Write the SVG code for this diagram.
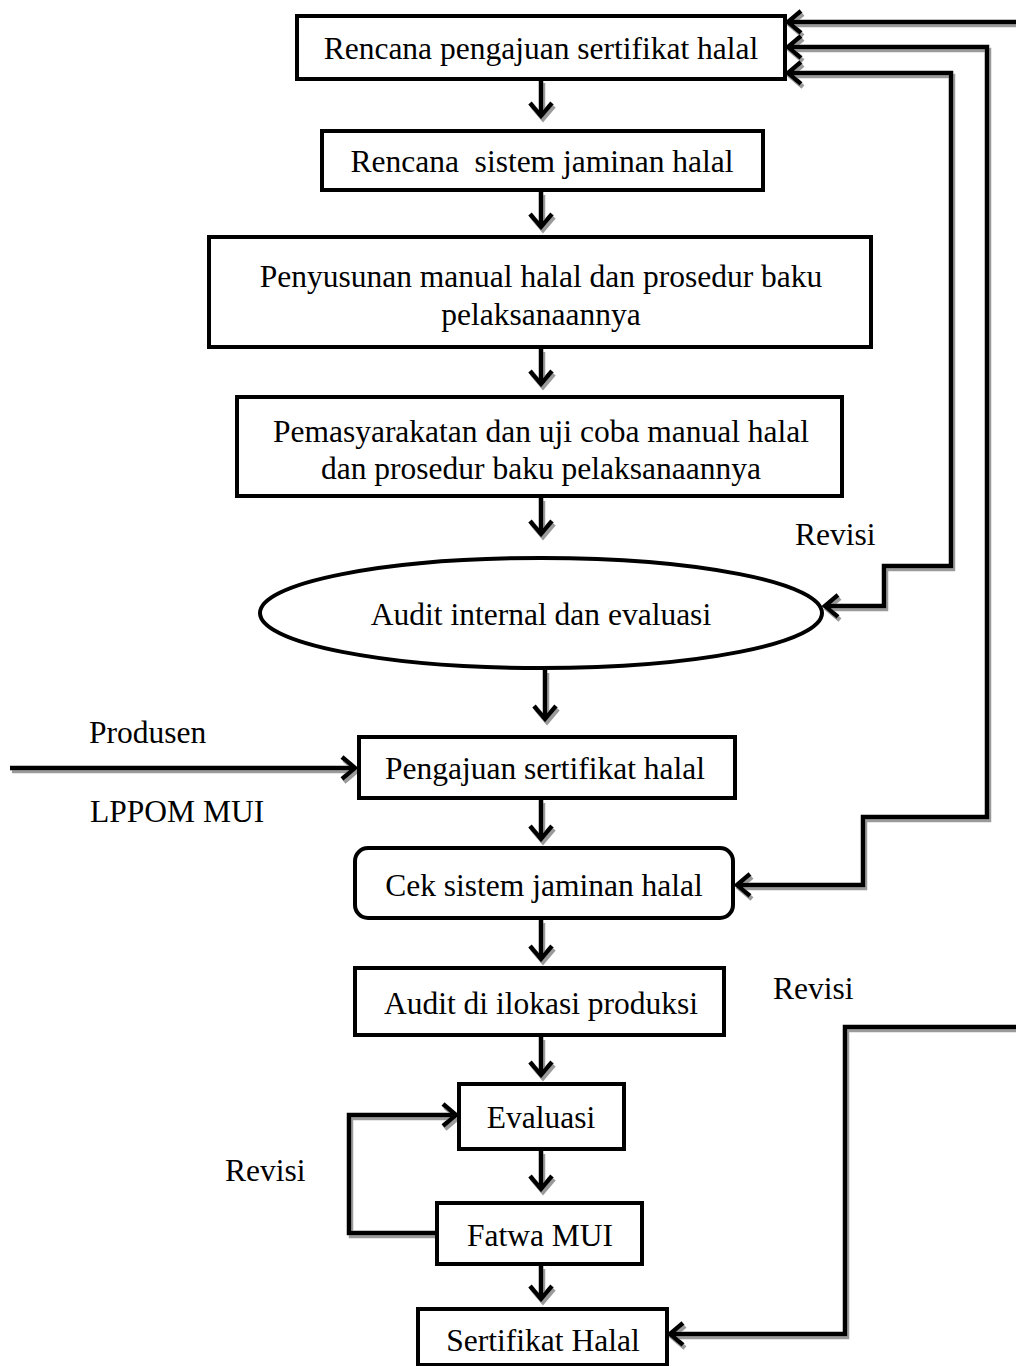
<svg xmlns="http://www.w3.org/2000/svg" width="1016" height="1366" viewBox="0 0 1016 1366">
<style>
.box{fill:#fff;stroke:#000;stroke-width:4}
.t{font-family:"Liberation Serif","Times New Roman",serif;font-size:31.5px;fill:#000;text-anchor:middle;white-space:pre}
.l{font-family:"Liberation Serif","Times New Roman",serif;font-size:31.5px;fill:#000}
.c{fill:none;stroke:#000;stroke-width:4.5}
</style>
<defs>
<marker id="ah" viewBox="-16 -14 20 28" refX="0" refY="0" markerWidth="20" markerHeight="28" markerUnits="userSpaceOnUse" orient="auto-start-reverse">
<path d="M-13,-11 L0,0 L-13,11" fill="none" stroke="#000" stroke-width="4.5"/>
</marker>
<filter id="sh" x="-5%" y="-5%" width="110%" height="110%">
<feOffset in="SourceAlpha" dx="2" dy="3" result="o"/>
<feFlood flood-color="#9a9a9a"/>
<feComposite in2="o" operator="in" result="s"/>
<feMerge><feMergeNode in="s"/><feMergeNode in="SourceGraphic"/></feMerge>
</filter>
</defs>
<g id="connectors" filter="url(#sh)">
<path class="c" d="M541,80 V116" marker-end="url(#ah)"/>
<path class="c" d="M541,192 V227" marker-end="url(#ah)"/>
<path class="c" d="M541,349 V384" marker-end="url(#ah)"/>
<path class="c" d="M541,498 V534" marker-end="url(#ah)"/>
<path class="c" d="M545,670 V719" marker-end="url(#ah)"/>
<path class="c" d="M541,800 V839" marker-end="url(#ah)"/>
<path class="c" d="M541,920 V959" marker-end="url(#ah)"/>
<path class="c" d="M541,1037 V1075" marker-end="url(#ah)"/>
<path class="c" d="M541,1151 V1189" marker-end="url(#ah)"/>
<path class="c" d="M541,1266 V1299" marker-end="url(#ah)"/>
<path class="c" d="M10,768 H355" marker-end="url(#ah)"/>
<path class="c" d="M1016,22 H788" marker-end="url(#ah)"/>
<path class="c" d="M788,47 H987 V817 H863 V885 H737" marker-start="url(#ah)" marker-end="url(#ah)"/>
<path class="c" d="M788,73 H951 V566 H884 V606 H825" marker-start="url(#ah)" marker-end="url(#ah)"/>
<path class="c" d="M1016,1027 H845 V1334 H670" marker-end="url(#ah)"/>
<path class="c" d="M437,1233 H349 V1115 H456" marker-end="url(#ah)"/>
</g>
<g id="n1"><rect class="box" x="297" y="16" width="488" height="63"/><text class="t" x="541" y="59">Rencana pengajuan sertifikat halal</text></g>
<g id="n2"><rect class="box" x="322" y="131" width="441" height="59"/><text class="t" x="542" y="172">Rencana  sistem jaminan halal</text></g>
<g id="n3"><rect class="box" x="209" y="237" width="662" height="110"/><text class="t" x="541" y="287">Penyusunan manual halal dan prosedur baku</text><text class="t" x="541" y="325">pelaksanaannya</text></g>
<g id="n4"><rect class="box" x="237" y="397" width="605" height="99"/><text class="t" x="541" y="442">Pemasyarakatan dan uji coba manual halal</text><text class="t" x="541" y="479">dan prosedur baku pelaksanaannya</text></g>
<g id="n5"><ellipse class="box" cx="541" cy="613" rx="281" ry="55"/><text class="t" x="541" y="625">Audit internal dan evaluasi</text></g>
<g id="n6"><rect class="box" x="359" y="737" width="376" height="61"/><text class="t" x="545" y="779">Pengajuan sertifikat halal</text></g>
<g id="n7"><rect class="box" x="355" y="848" width="378" height="70" rx="13"/><text class="t" x="544" y="896">Cek sistem jaminan halal</text></g>
<g id="n8"><rect class="box" x="355" y="968" width="369" height="67"/><text class="t" x="541" y="1014">Audit di ilokasi produksi</text></g>
<g id="n9"><rect class="box" x="459" y="1084" width="165" height="65"/><text class="t" x="541" y="1128">Evaluasi</text></g>
<g id="n10"><rect class="box" x="437" y="1203" width="205" height="61"/><text class="t" x="540" y="1246">Fatwa MUI</text></g>
<g id="n11"><rect class="box" x="418" y="1309" width="249" height="56"/><text class="t" x="543" y="1351">Sertifikat Halal</text></g>
<g id="labels">
<text class="l" x="795" y="545">Revisi</text>
<text class="l" x="89" y="743">Produsen</text>
<text class="l" x="90" y="822">LPPOM MUI</text>
<text class="l" x="773" y="999">Revisi</text>
<text class="l" x="225" y="1181">Revisi</text>
</g>
</svg>
